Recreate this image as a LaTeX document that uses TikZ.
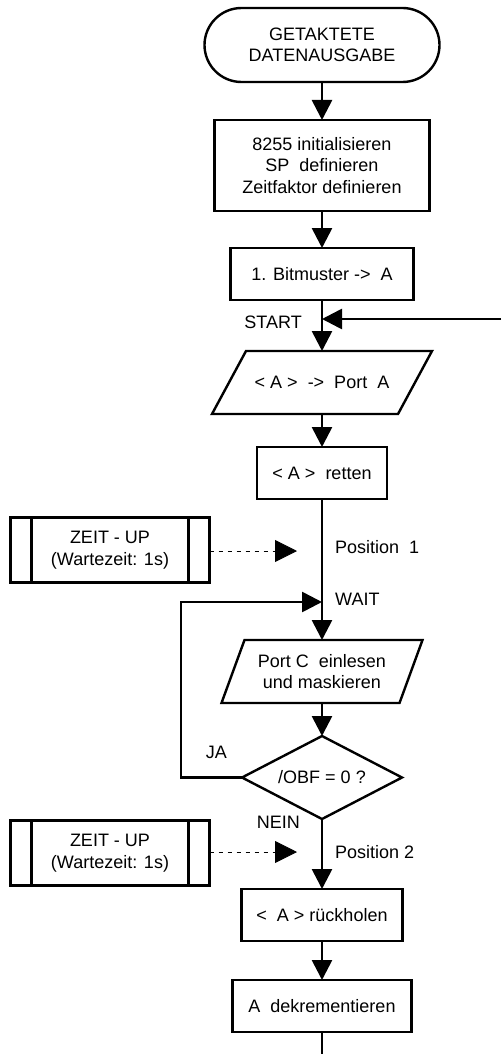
\documentclass[tikz,border=0pt]{standalone}
\usepackage{fontspec}
\setmainfont{Liberation Sans}
\usetikzlibrary{arrows.meta,positioning,shapes.geometric,shapes.misc,calc}
% parallelogram frame round a plain node: #1 node, #2 slant
\newcommand{\ioframe}[2]{%
  \draw[line width=2.4pt] ([xshift=-#2]#1.south west) -- ([xshift=#2]#1.north west)
    -- ([xshift=#2]#1.north east) -- ([xshift=-#2]#1.south east) -- cycle;}

\begin{document}
\begin{tikzpicture}[
  x=1pt, y=1pt,
  font=\fontsize{18}{21.5}\selectfont,
  box/.style={draw, line width=2.4pt, align=center, inner sep=2pt, outer sep=0pt},
  term/.style={box, rounded rectangle, minimum width=239pt, minimum height=74pt},
  proc/.style={box, rectangle, minimum height=52pt},
  io/.style={box, draw=none, rectangle, minimum height=63pt},
  test/.style={box, diamond, shape aspect=1.93, minimum width=160pt, minimum height=83pt, inner sep=0pt},
  subproc/.style={box, rectangle, minimum width=199pt, minimum height=65pt,
    path picture={\draw[line width=2.4pt]
      ([xshift=21pt]path picture bounding box.north west) -- ([xshift=21pt]path picture bounding box.south west)
      ([xshift=-21pt]path picture bounding box.north east) -- ([xshift=-21pt]path picture bounding box.south east);}},
  lbl/.style={inner sep=0pt},
  arrow/.style={-{Triangle[length=20pt,width=20pt]}, line width=2.7pt},
  hint/.style={-{Triangle[length=22pt,width=22pt]}, line width=0.8pt, dash pattern=on 4.5pt off 4.5pt}
]
\useasboundingbox (0,0) rectangle (501,-1054);

\node[term] (begin) at (322,-45) {GETAKTETE\\DATENAUSGABE};
\node[proc, minimum width=215pt, minimum height=91pt, below=38pt of begin] (init) {
  8255 initialisieren\\
  SP\ \ definieren\\
  Zeitfaktor definieren
};
\node[proc, minimum width=183pt, below=37pt of init] (first) {1. Bitmuster ->\ \ A};
\node[io, minimum width=186pt, below=51pt of first] (out) {< A >\ \ ->\ \ Port\ \ A};
\node[proc, minimum width=130pt, below=33pt of out] (save) {< A >\ \ retten};
\node[io, minimum width=178pt, below=141pt of save] (read) {Port C\ \ einlesen\\und maskieren};
\node[test, below=33pt of read] (obf) {/OBF = 0 ?};
\node[proc, minimum width=161pt, below=70pt of obf] (restore) {<\ \ A > rückholen};
\node[proc, minimum width=179pt, below=39pt of restore] (dec) {A\ \ dekrementieren};

\ioframe{out}{17pt}
\ioframe{read}{11.5pt}

\node[subproc] (zeit1) at (110,-550) {ZEIT - UP\\(Wartezeit: 1s)};
\node[subproc] (zeit2) at (110,-853) {ZEIT - UP\\(Wartezeit: 1s)};

\coordinate (start) at (322,-319);
\coordinate (loop) at (501,-319);
\coordinate (pos1) at (322,-551);
\coordinate (tip1) at (297,-551);
\coordinate (wait) at (322,-602);
\coordinate (pos2) at (322,-852);
\coordinate (tip2) at (297,-852);
\coordinate (exit) at (322,-1054);

\draw[arrow] (begin) -- (init);
\draw[arrow] (init) -- (first);
\draw[arrow] (first) -- (out);
\draw[arrow] (loop) -- (start);
\draw[arrow] (out) -- (save);
\draw[arrow] (save) -- (read);
\draw[arrow] (read) -- (obf);
\draw[arrow] (obf.west) -- ++(-61,0) |- (wait);
\draw[arrow] (obf) -- (restore);
\draw[arrow] (restore) -- (dec);
\draw[line width=2.7pt] (dec) -- (exit);
\draw[hint] (zeit1.east |- tip1) -- (tip1);
\draw[hint] (zeit2.east |- tip2) -- (tip2);

\node[lbl, left=20pt of start, yshift=-3pt] (startlbl) {START};
\node[lbl, right=13pt of pos1, yshift=4pt] (pos1lbl) {Position\ \ 1};
\node[lbl, right=13pt of wait, yshift=3pt] (waitlbl) {WAIT};
\node[lbl, above left=19pt and 15pt of obf.west] (jalbl) {JA};
\node[lbl, left=22pt of obf.south, yshift=-3pt] (neinlbl) {NEIN};
\node[lbl, right=13pt of pos2] (pos2lbl) {Position 2};

\end{tikzpicture}
\end{document}
